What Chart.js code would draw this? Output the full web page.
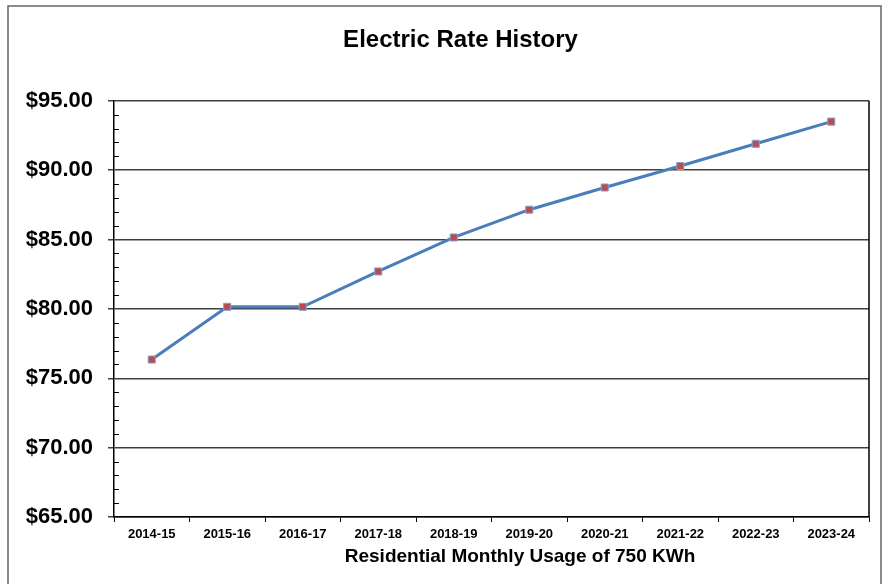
<!DOCTYPE html>
<html>
<head>
<meta charset="utf-8">
<title>Electric Rate History</title>
<script src="https://cdn.jsdelivr.net/npm/chart.js@4/dist/chart.umd.min.js"></script>
<style>
  html, body { margin: 0; padding: 0; background: #ffffff; }
  #wrap { width: 885px; height: 584px; }
</style>
</head>
<body>
<div id="wrap"><canvas id="chart" width="885" height="584"></canvas></div>
<script>
// Fiscal years on the horizontal axis
const fiscalYears = ['2014-15', '2015-16', '2016-17', '2017-18', '2018-19',
                     '2019-20', '2020-21', '2021-22', '2022-23', '2023-24'];
// Monthly bill (dollars) for a residential customer using 750 kWh
const monthlyBill = [76.35, 80.15, 80.15, 82.70, 85.15, 87.15, 88.75, 90.30, 91.90, 93.50];
// Value axis range and step
const axisMin = 65;
const axisMax = 95;
const axisStep = 5;
const minorStep = 1;
// Caption under the category axis
const xAxisTitle = 'Residential Monthly Usage of 750 KWh';

const FONT = '"Liberation Sans", Arial, Helvetica, sans-serif';

// Frame around the whole chart, border around the plot, minor ticks on the value axis,
// and the category-axis caption (set slightly right of the plot centre)
const decorations = {
  id: 'decorations',
  afterLayout(chart) {
    // centre the chart title over the span between the value labels and the frame
    if (chart.titleBlock) {
      chart.titleBlock.left = 52;
      chart.titleBlock.right = 869;
    }
  },
  beforeDraw(chart) {
    const ctx = chart.ctx;
    ctx.save();
    ctx.fillStyle = '#ffffff';
    ctx.fillRect(0, 0, chart.width, chart.height);
    ctx.strokeStyle = '#666666';
    ctx.lineWidth = 1.5;
    ctx.strokeRect(8, 6, 873, chart.height + 10);
    ctx.restore();
  },
  afterDraw(chart) {
    const ctx = chart.ctx;
    const area = chart.chartArea;
    const y = chart.scales.y;
    ctx.save();
    ctx.strokeStyle = '#000000';
    ctx.lineWidth = 1.5;
    ctx.beginPath();
    ctx.moveTo(area.right, area.top);
    ctx.lineTo(area.right, area.bottom);
    ctx.stroke();
    ctx.lineWidth = 1;
    ctx.beginPath();
    for (let v = axisMin + minorStep; v < axisMax; v += minorStep) {
      if (v % axisStep === 0) continue;
      const py = Math.round(y.getPixelForValue(v)) + 0.5;
      ctx.moveTo(area.left, py);
      ctx.lineTo(area.left + 5, py);
    }
    ctx.stroke();

    ctx.fillStyle = '#000000';
    ctx.font = 'bold 19px ' + FONT;
    ctx.textAlign = 'center';
    ctx.textBaseline = 'middle';
    ctx.fillText(xAxisTitle, 520, 557);
    ctx.restore();
  }
};

new Chart(document.getElementById('chart'), {
  type: 'line',
  data: {
    labels: fiscalYears,
    datasets: [{
      label: 'Monthly bill',
      data: monthlyBill,
      borderColor: '#4a7ebb',
      borderWidth: 3,
      tension: 0,
      pointStyle: 'rect',
      pointRadius: 5,
      pointHoverRadius: 5,
      pointBackgroundColor: '#be4b48',
      pointBorderColor: '#7fa3d6',
      pointBorderWidth: 1
    }]
  },
  plugins: [decorations],
  options: {
    responsive: false,
    animation: false,
    layout: { padding: { left: 8, right: 16, top: 0, bottom: 0 } },
    plugins: {
      legend: { display: false },
      tooltip: { enabled: false },
      title: {
        display: true,
        text: 'Electric Rate History',
        color: '#000000',
        font: { family: FONT, size: 24, weight: 'bold' },
        padding: { top: 26, bottom: 46 }
      }
    },
    scales: {
      x: {
        type: 'category',
        offset: true,
        afterFit(scale) { scale.height = 67; },
        grid: {
          offset: true,
          drawOnChartArea: false,
          drawTicks: true,
          tickLength: 5,
          color: '#000000',
          lineWidth: 1
        },
        border: { display: true, color: '#000000', width: 1.5 },
        ticks: {
          color: '#000000',
          padding: 5,
          maxRotation: 0,
          autoSkip: false,
          font: { family: FONT, size: 13, weight: 'bold' }
        }
      },
      y: {
        min: axisMin,
        max: axisMax,
        afterFit(scale) { scale.width = 106; },
        grid: {
          color: '#404040',
          lineWidth: 1.5,
          drawTicks: true,
          tickLength: 6
        },
        border: { display: true, color: '#000000', width: 1.5 },
        ticks: {
          stepSize: axisStep,
          color: '#000000',
          padding: 15,
          font: { family: FONT, size: 22, weight: 'bold' },
          callback: (v) => '$' + Number(v).toFixed(2)
        }
      }
    }
  }
});
</script>
</body>
</html>
